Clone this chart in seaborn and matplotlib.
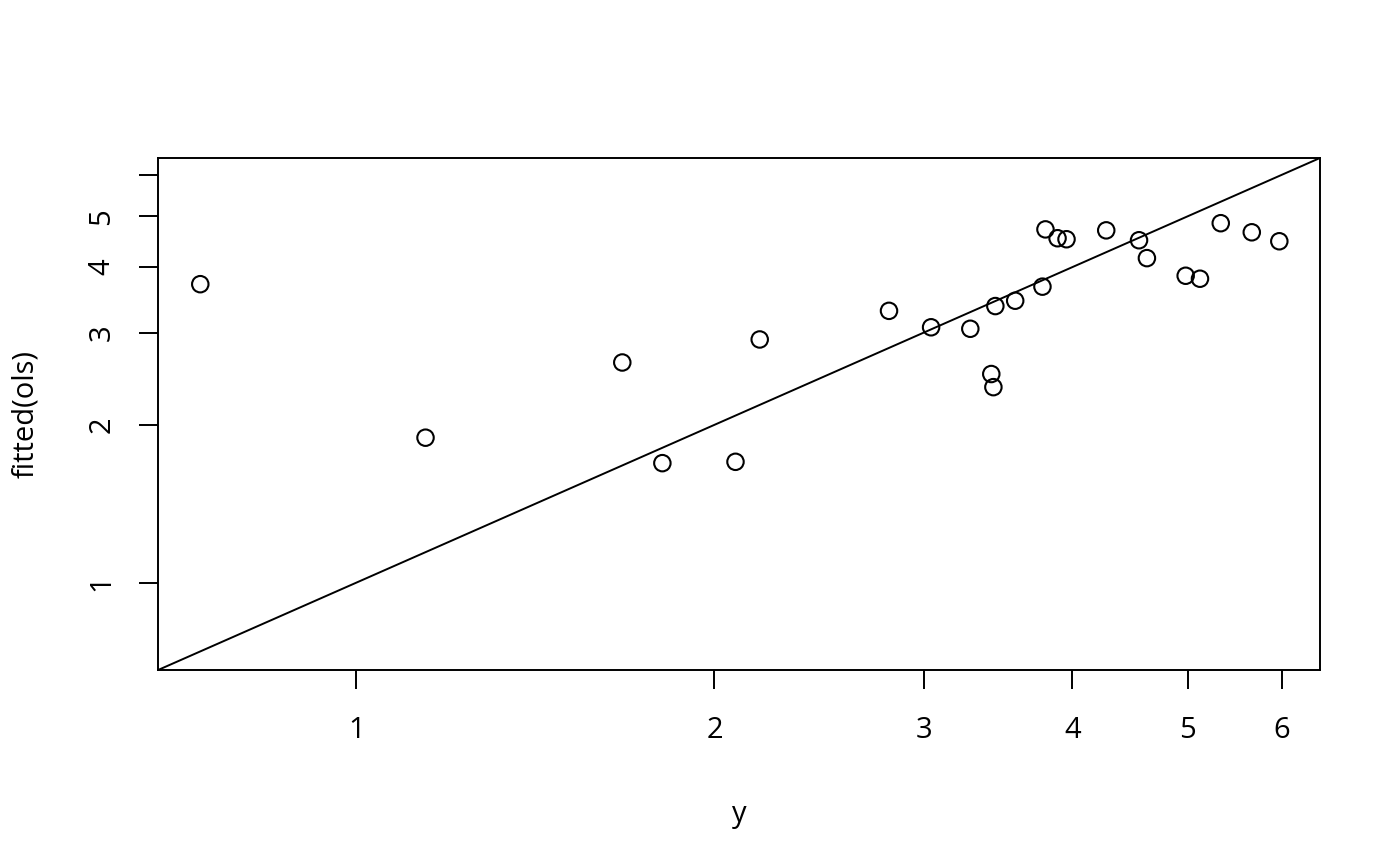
import numpy as np
import pandas as pd
import matplotlib
matplotlib.use("Agg")
import matplotlib.pyplot as plt
import seaborn as sns

sns.set_style("ticks")
plt.rcParams["font.family"] = ["Open Sans", "DejaVu Sans"]
plt.rcParams["text.color"] = "black"
plt.rcParams["axes.labelcolor"] = "black"

# observed y vs fitted values from the OLS model
y_obs = [0.739, 1.143, 1.673, 1.808, 2.083, 2.183, 2.804, 3.042, 3.282, 3.418,
         3.432, 3.445, 3.58, 3.774, 3.796, 3.886, 3.954, 4.27, 4.55, 4.62,
         4.98, 5.12, 5.33, 5.66, 5.97]
fitted = [3.71, 1.89, 2.63, 1.69, 1.70, 2.91, 3.30, 3.07, 3.05, 2.50,
          2.36, 3.37, 3.45, 3.67, 4.72, 4.54, 4.52, 4.70, 4.50, 4.16,
          3.85, 3.80, 4.85, 4.66, 4.48]
x_ticks = [1, 2, 3, 4, 5, 6]
y_ticks = [1, 2, 3, 4, 5, 6]
y_ticklabels = ["1", "2", "3", "4", "5", ""]

df = pd.DataFrame({"y": y_obs, "fitted": fitted})

fig = plt.figure(figsize=(14, 8.66), dpi=100)
ax = fig.add_axes([0.1129, 0.2263, 0.83, 0.5913])

sns.scatterplot(data=df, x="y", y="fitted", ax=ax, s=140, marker="o",
                facecolors="none", edgecolor="black", linewidth=1.5, zorder=3)

ax.set_xscale("log")
ax.set_yscale("log")
lims = (0.681, 6.46)
ax.set_xlim(lims)
ax.set_ylim(lims)
ax.axline((1, 1), (2, 2), color="black", linewidth=1.4)

ax.set_xticks(x_ticks)
ax.set_xticklabels([str(t) for t in x_ticks])
ax.set_yticks(y_ticks)
ax.set_yticklabels(y_ticklabels, rotation=90, va="center")
ax.minorticks_off()
ax.tick_params(axis="both", which="major", direction="out", length=14,
               width=1.4, labelsize=21, color="black", labelcolor="black",
               bottom=True, left=True)
ax.tick_params(axis="x", pad=19)
ax.tick_params(axis="y", pad=16)

for sp in ax.spines.values():
    sp.set_visible(True)
    sp.set_color("black")
    sp.set_linewidth(1.4)

ax.set_xlabel("y", fontsize=21, labelpad=40)
ax.set_ylabel("fitted(ols)", fontsize=21, labelpad=34)

fig.savefig("out.png", dpi=100, facecolor="white")
